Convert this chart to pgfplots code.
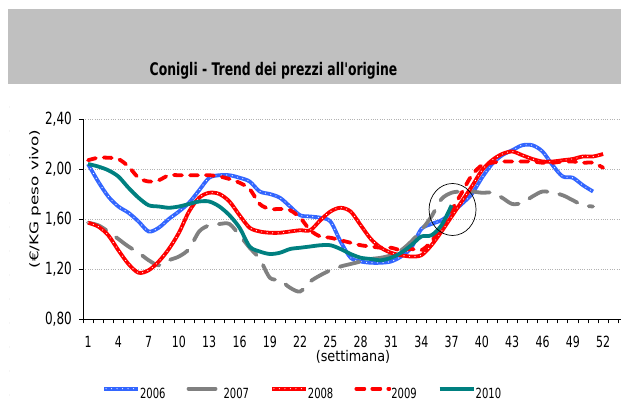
\documentclass[border=0pt]{standalone}
\usepackage{pgfplots}
\pgfplotsset{compat=1.18}
\usepackage{pgfplotstable}
\usepackage{fontspec}
\setmainfont{DejaVu Sans}
\newfontfamily\plainfont{DejaVu Sans}
\usepackage{graphicx}
\definecolor{c06}{RGB}{51,102,255}
\definecolor{c07}{RGB}{128,128,128}
\definecolor{c08}{RGB}{255,0,0}
\definecolor{c10}{RGB}{0,128,128}
\definecolor{band}{RGB}{192,192,192}
\newcommand{\vs}[1]{\scalebox{1}[1.4]{#1}}

\pgfplotstableread{
w v
1 2.04
2 1.90
3 1.78
4 1.70
5 1.65
6 1.58
7 1.50
8 1.53
9 1.60
10 1.66
11 1.73
12 1.83
13 1.93
14 1.95
15 1.95
16 1.93
17 1.90
18 1.82
19 1.80
20 1.77
21 1.70
22 1.63
23 1.62
24 1.61
25 1.58
26 1.42
27 1.29
28 1.26
29 1.25
30 1.25
31 1.26
32 1.30
33 1.37
34 1.52
35 1.56
36 1.59
37 1.65
38 1.72
39 1.80
40 1.93
41 2.04
42 2.11
43 2.15
44 2.19
45 2.19
46 2.14
47 2.03
48 1.94
49 1.93
50 1.87
51 1.82
}\tA

\pgfplotstableread{
w v
1 1.57
2 1.55
3 1.50
4 1.44
5 1.38
6 1.33
7 1.27
8 1.23
9 1.27
10 1.30
11 1.36
12 1.50
13 1.55
14 1.56
15 1.56
16 1.47
17 1.37
18 1.28
19 1.13
20 1.11
21 1.05
22 1.02
23 1.10
24 1.15
25 1.19
26 1.22
27 1.24
28 1.26
29 1.28
30 1.29
31 1.31
32 1.35
33 1.42
34 1.51
35 1.62
36 1.76
37 1.81
38 1.82
39 1.82
40 1.81
41 1.81
42 1.77
43 1.72
44 1.73
45 1.78
46 1.82
47 1.81
48 1.79
49 1.75
50 1.71
51 1.70
}\tB

\pgfplotstableread{
w v
1 1.57
2 1.54
3 1.47
4 1.35
5 1.24
6 1.17
7 1.19
8 1.26
9 1.36
10 1.49
11 1.66
12 1.77
13 1.81
14 1.80
15 1.74
16 1.63
17 1.53
18 1.50
19 1.49
20 1.49
21 1.50
22 1.51
23 1.51
24 1.59
25 1.66
26 1.69
27 1.66
28 1.55
29 1.44
30 1.37
31 1.33
32 1.31
33 1.30
34 1.31
35 1.39
36 1.50
37 1.62
38 1.74
39 1.86
40 1.99
41 2.07
42 2.12
43 2.14
44 2.11
45 2.08
46 2.06
47 2.06
48 2.07
49 2.08
50 2.10
51 2.10
52 2.12
}\tC

\pgfplotstableread{
w v
1 2.07
2 2.09
3 2.09
4 2.08
5 2.02
6 1.93
7 1.90
8 1.91
9 1.95
10 1.95
11 1.95
12 1.95
13 1.95
14 1.94
15 1.92
16 1.89
17 1.84
18 1.72
19 1.68
20 1.68
21 1.67
22 1.61
23 1.51
24 1.46
25 1.45
26 1.43
27 1.41
28 1.39
29 1.38
30 1.37
31 1.37
32 1.35
33 1.36
34 1.35
35 1.42
36 1.54
37 1.67
38 1.81
39 1.95
40 2.03
41 2.05
42 2.06
43 2.06
44 2.06
45 2.06
46 2.05
47 2.05
48 2.06
49 2.06
50 2.05
51 2.05
52 2.01
}\tD

\pgfplotstableread{
w v
1 2.04
2 2.02
3 1.99
4 1.94
5 1.85
6 1.77
7 1.71
8 1.70
9 1.69
10 1.70
11 1.72
12 1.74
13 1.74
14 1.70
15 1.63
16 1.53
17 1.38
18 1.34
19 1.32
20 1.33
21 1.36
22 1.37
23 1.38
24 1.39
25 1.39
26 1.36
27 1.32
28 1.29
29 1.28
30 1.27
31 1.29
32 1.33
33 1.39
34 1.46
35 1.47
36 1.55
37 1.71
}\tE

\begin{document}
\begin{tikzpicture}[x=1pt,y=1pt]
\useasboundingbox (0,0) rectangle (621,414);
\fill[band] (8,330) rectangle (621,405);
\node[anchor=base, inner sep=0pt, font=\plainfont\fontsize{12.4}{14}\selectfont\bfseries] at (273.5,338) {\vs{Conigli - Trend dei prezzi all'origine}};
\draw[gray!35, line width=0.8pt, line cap=round, dash pattern=on 0pt off 24pt] (9.5,307) -- (9.5,0);

\begin{axis}[
  at={(83pt,95pt)}, anchor=south west,
  scale only axis, width=538.3pt, height=200pt,
  xmin=0.5, xmax=53.8, ymin=0.8, ymax=2.4,
  axis x line=bottom, axis y line=left,
  axis line style={-, black, line width=0.8pt},
  xtick={1,4,...,52},
  minor xtick={0.5,1.5,...,53.5},
  ytick={0.8,1.2,1.6,2.0,2.4},
  tick align=outside,
  major tick length=4pt, minor tick length=4.5pt,
  major x tick style={draw=none},
  minor x tick style={black, line width=0.6pt},
  y tick style={black, line width=0.6pt},
  ymajorgrids,
  major y grid style={gray!60, line width=0.8pt, dash pattern=on 1pt off 1.3pt},
  /pgf/number format/assume math mode=true,
  xticklabel={\vs{\pgfmathprintnumber{\tick}}},
  yticklabel={\vs{\pgfmathprintnumber[fixed,fixed zerofill,precision=2,use comma]{\tick}}},
  xticklabel style={font=\fontsize{11}{12}\selectfont, anchor=center, inner sep=0pt, yshift=-18.5pt},
  yticklabel style={font=\fontsize{12}{13}\selectfont, anchor=east, inner sep=0pt, xshift=-7pt},
  legend columns=5,
  legend style={at={(axis description cs:0.0353,-0.3685)}, anchor=west, draw=none, fill=none,
    inner sep=0pt, font=\fontsize{10}{12}\selectfont, nodes={inner sep=0pt},
    /tikz/every odd column/.append style={column sep=0pt},
    /tikz/every even column/.append style={column sep=21pt}},
]
\addplot[c06, line width=3.8pt, smooth, forget plot] table[x=w,y=v] {\tA};
\addplot[white, line width=1.2pt, line cap=round, dash pattern=on 0pt off 5.5pt, smooth, forget plot] table[x=w,y=v] {\tA};
\addplot[c07, line width=3.8pt, line cap=round, dash pattern=on 20pt off 12pt, smooth, forget plot] table[x=w,y=v] {\tB};
\addplot[c08, line width=3.8pt, smooth, forget plot] table[x=w,y=v] {\tC};
\addplot[white, line width=1.2pt, line cap=round, dash pattern=on 0pt off 5.5pt, smooth, forget plot] table[x=w,y=v] {\tC};
\addplot[c08, line width=3.8pt, line cap=round, dash pattern=on 8pt off 8pt, smooth, forget plot] table[x=w,y=v] {\tD};
\addplot[c10, line width=3.8pt, smooth, forget plot] table[x=w,y=v] {\tE};

\draw[black, line width=0.7pt] (axis cs:37.09,1.676) ellipse [x radius=23.5pt, y radius=26pt];

\addlegendimage{legend image code/.code={
  \path[draw=none, fill=none] (0pt,-3pt) rectangle (37pt,8pt);
  \draw[c06, line width=3.8pt] (1pt,5pt) -- (35pt,5pt);
  \draw[white, line width=1.2pt, line cap=round, dash pattern=on 0pt off 5.5pt] (3pt,5pt) -- (35pt,5pt);}}
\addlegendentry{\vs{2006}}
\addlegendimage{legend image code/.code={
  \path[draw=none, fill=none] (0pt,-3pt) rectangle (37pt,8pt);
  \draw[c07, line width=3.8pt, line cap=round] (2pt,5pt) -- (29pt,5pt);}}
\addlegendentry{\vs{2007}}
\addlegendimage{legend image code/.code={
  \path[draw=none, fill=none] (0pt,-3pt) rectangle (37pt,8pt);
  \draw[c08, line width=3.8pt] (1pt,5pt) -- (35pt,5pt);
  \draw[white, line width=1.2pt, line cap=round, dash pattern=on 0pt off 5.5pt] (3pt,5pt) -- (35pt,5pt);}}
\addlegendentry{\vs{2008}}
\addlegendimage{legend image code/.code={
  \path[draw=none, fill=none] (0pt,-3pt) rectangle (37pt,8pt);
  \draw[c08, line width=3.8pt, line cap=round, dash pattern=on 8pt off 8pt] (2pt,5pt) -- (35pt,5pt);}}
\addlegendentry{\vs{2009}}
\addlegendimage{legend image code/.code={
  \path[draw=none, fill=none] (0pt,-3pt) rectangle (37pt,8pt);
  \draw[c10, line width=3.8pt] (1pt,5pt) -- (35pt,5pt);}}
\addlegendentry{\vs{2010}}
\end{axis}

\node[rotate=90, inner sep=0pt, font=\fontsize{12}{14}\selectfont] at (35,215) {\scalebox{1.4}[1]{(€/KG peso vivo)}};
\node[inner sep=0pt, font=\fontsize{12.8}{14}\selectfont] at (353,57.5) {\scalebox{1}[1.15]{(settimana)}};
\end{tikzpicture}
\end{document}
